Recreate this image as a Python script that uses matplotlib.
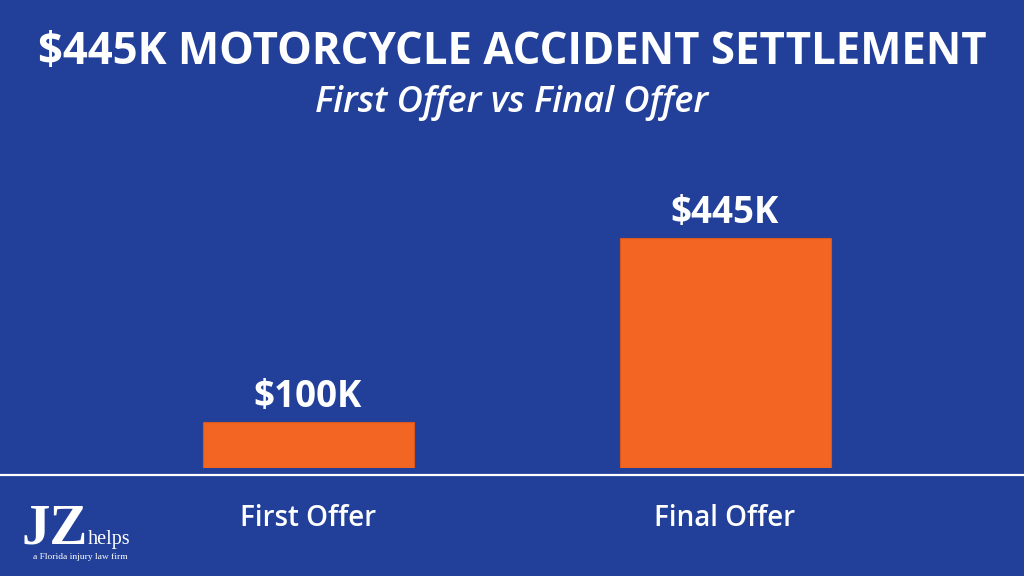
import matplotlib
matplotlib.use("Agg")
import matplotlib.pyplot as plt

# Chart content
title = "$445K MOTORCYCLE ACCIDENT SETTLEMENT"
subtitle = "First Offer vs Final Offer"
categories = ["First Offer", "Final Offer"]
values_k = [100, 445]
value_labels = ["$100K", "$445K"]

BG = "#22409A"
BAR = "#F26522"
WHITE = "#FFFFFF"

sans = ["Open Sans", "DejaVu Sans"]
serif = ["Liberation Serif", "DejaVu Serif"]

W, H = 1024, 576
fig = plt.figure(figsize=(W / 100, H / 100), dpi=100, facecolor=BG)

# Bar axes: bottom edge sits on the bar bases, x positions 0/1 at the bar centres
ax_bottom_px, ax_top_px = 468, 140
ax = fig.add_axes([0, 1 - ax_bottom_px / H, 1, (ax_bottom_px - ax_top_px) / H])
ax.set_facecolor(BG)
ppu = 417.0
x0_px = 308.0
ax.set_xlim(-x0_px / ppu, (W - x0_px) / ppu)
y_base = 13.75
px_per_k = 0.5333
ax.set_ylim(y_base, y_base + (ax_bottom_px - ax_top_px) / px_per_k)
ax.axis("off")

xs = list(range(len(categories)))
heights = [v - y_base for v in values_k]
bars = ax.bar(xs, heights, bottom=y_base, width=211 / ppu, color=BAR,
              edgecolor="#D9561C", linewidth=0.8)

for x, v, lab in zip(xs, values_k, value_labels):
    ax.annotate(lab, (x, v), xytext=(0, 11), textcoords="offset points",
                ha="center", va="baseline", color=WHITE, fontsize=26.5,
                fontweight="bold", family=sans, clip_on=False)

# Category labels below the baseline rule
for x, c in zip(xs, categories):
    ax.annotate(c, (x, y_base), xytext=(0, -58 * 0.72), textcoords="offset points",
                ha="center", va="baseline", color=WHITE, fontsize=20,
                fontweight="semibold", family=sans, annotation_clip=False)

# White baseline rule across the full width
fig.add_artist(plt.Line2D([0, 1], [1 - 474.5 / H] * 2, transform=fig.transFigure,
                          color=WHITE, linewidth=1.6))

# Headings
fig.text(0.5, 1 - 64 / H, title, ha="center", va="baseline", color=WHITE,
         fontsize=31.5, fontweight="bold", family=sans)
fig.text(0.5, 1 - 112 / H, subtitle, ha="center", va="baseline", color=WHITE,
         fontsize=26, fontstyle="italic", fontweight="semibold", family=sans)

# Firm logo
fig.text(21 / W, 1 - 544 / H, "JZ", ha="left", va="baseline", color=WHITE,
         fontsize=41, fontweight="bold", family=serif)
fig.text(88 / W, 1 - 544 / H, "helps", ha="left", va="baseline", color=WHITE,
         fontsize=14.5, family=serif)
fig.text(33 / W, 1 - 559 / H, "a Florida injury law firm", ha="left", va="baseline",
         color=WHITE, fontsize=6.8, family=serif)

fig.savefig("out.png", dpi=100, facecolor=BG)
